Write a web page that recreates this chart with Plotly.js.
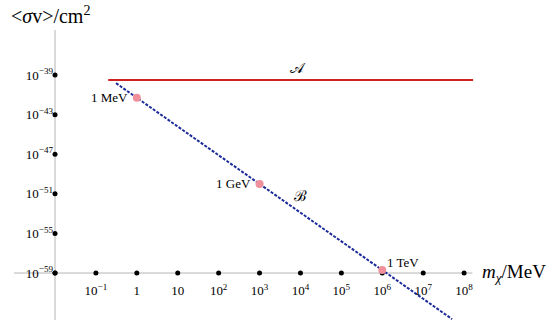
<!DOCTYPE html>
<html>
<head>
<meta charset="utf-8">
<script src="https://cdn.plot.ly/plotly-3.0.1.min.js"></script>
<style>html,body{margin:0;padding:0;background:#fff}#chart{width:550px;height:325px}</style>
</head>
<body>
<div id="chart"></div>
<script>
// ---- data ----
const xTickVals = [0.1, 1, 10, 100, 1e3, 1e4, 1e5, 1e6, 1e7, 1e8];
const xTickText = ["10<sup>−1</sup>", "1", "10", "10<sup>2</sup>", "10<sup>3</sup>", "10<sup>4</sup>", "10<sup>5</sup>", "10<sup>6</sup>", "10<sup>7</sup>", "10<sup>8</sup>"];
const yTickVals = [1e-39, 1e-43, 1e-47, 1e-51, 1e-55, 1e-59];
const yTickText = ["10<sup>−39</sup>", "10<sup>−43</sup>", "10<sup>−47</sup>", "10<sup>−51</sup>", "10<sup>−55</sup>", "10<sup>−59</sup>"];
const originX = 0.01, originY = 1e-59;

const lineAx = [0.2, 1.66e8];
const lineAy = [3.16e-40, 3.16e-40];
const lineBx = [0.31, 1, 1e3, 1e6, 5.1e7];
const lineBy = [1.5e-40, 5.0e-42, 1e-50, 2.0e-59, 2.2e-64];

const pointLabels = ["1 MeV", "1 GeV", "1 TeV"];
const pointX = [1, 1e3, 1e6];
const pointY = [5.0e-42, 1e-50, 2.0e-59];

const curveLabels = ["𝒜", "ℬ"];
const curveLabelX = [8.7e3, 9.8e3];
const curveLabelY = [3.16e-40, 6.3e-52];

// axis line extents
const xAxisSpan = [1e-3, 1.6e8];
const yAxisSpan = [3.5e-35, 1.8e-64];

// ---- layout helpers ----
const xr = [-3.345, 10.10];
const yr = [-64.25, -31.42];
const xPos = (Math.log10(originX) - xr[0]) / (xr[1] - xr[0]);
const yPos = (Math.log10(originY) - yr[0]) / (yr[1] - yr[0]);
const serif = "Liberation Serif";
const axisGray = "#b4b4b4";

const traces = [
  {x: xAxisSpan, y: [originY, originY], mode: "lines", line: {color: axisGray, width: 1}, hoverinfo: "skip", showlegend: false},
  {x: [originX, originX], y: yAxisSpan, mode: "lines", line: {color: axisGray, width: 1}, hoverinfo: "skip", showlegend: false},
  {x: xTickVals.concat([originX]), y: xTickVals.map(() => originY).concat([originY]), mode: "markers", marker: {color: "#000", size: 5}, hoverinfo: "skip", showlegend: false},
  {x: yTickVals.map(() => originX), y: yTickVals, mode: "markers", marker: {color: "#000", size: 5}, hoverinfo: "skip", showlegend: false},
  {x: lineAx, y: lineAy, mode: "lines", line: {color: "#cc2222", width: 2}, showlegend: false},
  {x: lineBx, y: lineBy, mode: "lines", line: {color: "#1c2a9a", width: 2, dash: "3px,1.5px"}, showlegend: false},
  {x: pointX, y: pointY, mode: "markers", marker: {color: "#f0909c", size: 8}, showlegend: false}
];

const annotations = [];
pointLabels.forEach((t, i) => {
  const above = i === 2;
  annotations.push({
    x: Math.log10(pointX[i]), y: Math.log10(pointY[i]), xref: "x", yref: "y",
    text: t, showarrow: false, font: {family: serif, size: 13, color: "#000"},
    xanchor: above ? "left" : "right", yanchor: above ? "bottom" : "middle",
    xshift: above ? 3 : -7, yshift: above ? -2 : 0
  });
});
curveLabels.forEach((t, i) => {
  annotations.push({
    x: Math.log10(curveLabelX[i]), y: Math.log10(curveLabelY[i]), xref: "x", yref: "y",
    text: t, showarrow: false, font: {family: "DejaVu Serif", size: 15, color: "#000"},
    xanchor: "center", yanchor: i === 0 ? "bottom" : "middle", yshift: i === 0 ? 1 : 0
  });
});
annotations.push({
  x: 9 / 550, y: 1 - 15 / 325, xref: "paper", yref: "paper", xanchor: "left", yanchor: "middle",
  text: "&lt;<i>σ</i>v&gt;/cm<sup>2</sup>", showarrow: false, font: {family: serif, size: 20, color: "#000"}
});
annotations.push({
  x: 480 / 550, y: yPos, xref: "paper", yref: "paper", xanchor: "left", yanchor: "middle",
  text: "<i>m</i><sub><i>χ</i></sub>/MeV", showarrow: false, font: {family: serif, size: 19, color: "#000"}
});

const layout = {
  width: 550, height: 325,
  margin: {l: 0, r: 0, t: 0, b: 0},
  paper_bgcolor: "#fff", plot_bgcolor: "#fff",
  showlegend: false,
  xaxis: {
    type: "log", range: xr, anchor: "free", position: yPos,
    showgrid: false, zeroline: false, showline: false, ticks: "",
    tickmode: "array", tickvals: xTickVals, ticktext: xTickText,
    tickfont: {family: serif, size: 13, color: "#000"}, ticklabelstandoff: 8,
    title: {text: ""}
  },
  yaxis: {
    type: "log", range: yr, anchor: "free", position: xPos,
    showgrid: false, zeroline: false, showline: false, ticks: "",
    tickmode: "array", tickvals: yTickVals, ticktext: yTickText,
    tickfont: {family: serif, size: 13, color: "#000"}, ticklabelstandoff: 2,
    title: {text: ""}
  },
  annotations: annotations
};

Plotly.newPlot("chart", traces, layout, {staticPlot: true, displayModeBar: false});
</script>
</body>
</html>
